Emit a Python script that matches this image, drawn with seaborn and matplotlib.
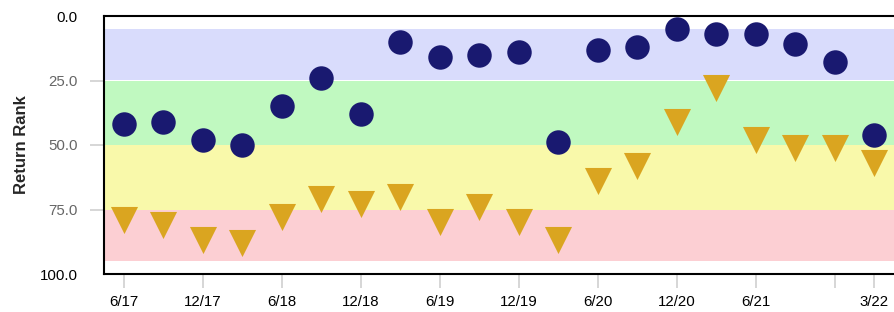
import numpy as np
import pandas as pd
import matplotlib
matplotlib.use("Agg")
import matplotlib.pyplot as plt
import seaborn as sns

# quarterly snapshots, 6/17 .. 3/22
quarters = ["6/17", "9/17", "12/17", "3/18", "6/18", "9/18", "12/18", "3/19",
            "6/19", "9/19", "12/19", "3/20", "6/20", "9/20", "12/20", "3/21",
            "6/21", "9/21", "12/21", "3/22"]
circle_rank = [42, 41, 48, 50, 35, 24, 38, 10, 16, 15, 14, 49, 13, 12, 5, 7, 7, 11, 18, 46]
triangle_rank = [79, 81, 87, 88, 78, 71, 73, 70, 80, 74, 80, 87, 64, 58, 41, 28, 48, 51, 51, 57]

# shaded rank zones (from, to, colour)
band_edges = [5, 25, 50, 75, 95]
band_colors = ["#d9dcfc", "#c0f9c0", "#f9f9aa", "#fccfd3"]

tick_quarters = ["6/17", "12/17", "6/18", "12/18", "6/19", "12/19", "6/20",
                 "12/20", "6/21", "12/21", "3/22"]
tick_text = ["6/17", "12/17", "6/18", "12/18", "6/19", "12/19", "6/20",
             "12/20", "6/21", "", "3/22"]
y_ticks = [0, 25, 50, 75, 100]

df = pd.DataFrame({"pos": np.arange(len(quarters)), "quarter": quarters,
                   "circle": circle_rank, "triangle": triangle_rank})

sns.set_style("white")
plt.rcParams["font.family"] = ["Liberation Sans", "DejaVu Sans"]

fig = plt.figure(figsize=(8.94, 3.12), dpi=100)
ax = fig.add_axes([104 / 894, 1 - 274 / 312, 1 - 104 / 894, (274 - 16) / 312])

for lo, hi, c in zip(band_edges[:-1], band_edges[1:], band_colors):
    ax.axhspan(lo, hi, color=c, lw=0, zorder=0, antialiased=False)

sns.scatterplot(data=df, x="pos", y="circle", ax=ax, marker="o", s=310,
                color="#191970", linewidth=0, zorder=3)
sns.scatterplot(data=df, x="pos", y="triangle", ax=ax, marker="v", s=380,
                color="#daa520", linewidth=0, zorder=3)

ax.set_xlim(-0.5, 19.5)
ax.set_ylim(100, 0)

ax.set_xticks([quarters.index(q) for q in tick_quarters])
ax.set_xticklabels(tick_text, fontsize=10.8, color="black")
ax.set_yticks(y_ticks)
ax.set_yticklabels([f"{v:.1f}" for v in y_ticks], fontsize=10.8)
for lbl, v in zip(ax.get_yticklabels(), y_ticks):
    lbl.set_color("black" if v in (0, 100) else "#666666")

ax.tick_params(axis="x", length=10, width=1.2, color="#d0d0d0", pad=5, bottom=True)
ax.tick_params(axis="y", length=10, width=1.2, color="#d0d0d0", pad=9, left=True)
# no tick marks at the ends of the y axis
ylines = ax.yaxis.get_ticklines()
for i, v in enumerate(y_ticks):
    if v in (0, 100):
        ylines[2 * i].set_visible(False)

ax.set_xlabel("")
ax.set_ylabel("Return Rank", fontsize=12, fontweight="bold", labelpad=8)

for side in ["top", "bottom", "left"]:
    ax.spines[side].set_visible(True)
    ax.spines[side].set_color("black")
    ax.spines[side].set_linewidth(1.5)
ax.spines["right"].set_visible(False)
ax.grid(False)

fig.savefig("out.png", dpi=100)
